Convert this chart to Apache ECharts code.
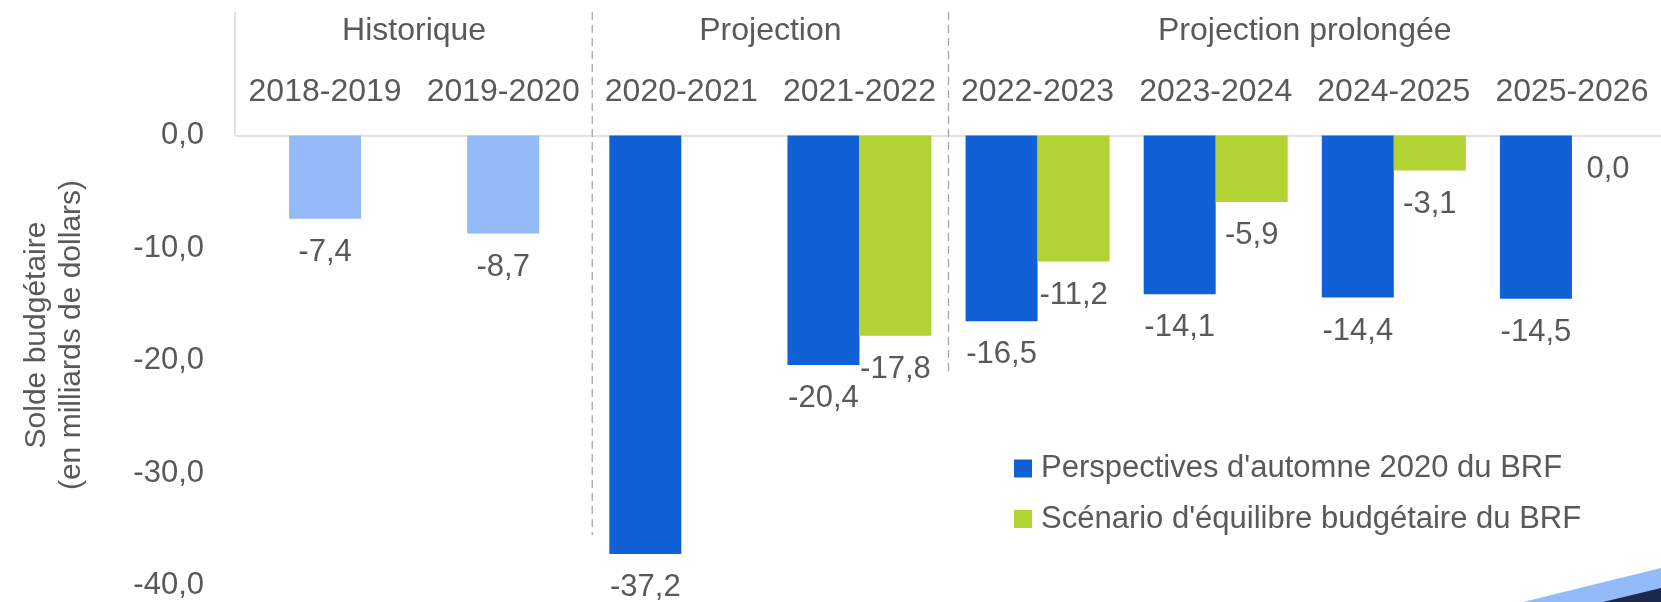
<!DOCTYPE html>
<html>
<head>
<meta charset="utf-8">
<script src="https://cdn.jsdelivr.net/npm/echarts@6/dist/echarts.min.js"></script>
<style>
html,body{margin:0;padding:0;background:#fff;}
#c{width:1661px;height:602px;}
</style>
</head>
<body>
<div id="c"></div>
<script>
const categories = ['2018-2019','2019-2020','2020-2021','2021-2022','2022-2023','2023-2024','2024-2025','2025-2026'];
const historique = [-7.4, -8.7, null, null, null, null, null, null];
const perspectives = [null, null, -37.2, -20.4, -16.5, -14.1, -14.4, -14.5];
const equilibre = [null, null, null, -17.8, -11.2, -5.9, -3.1, 0.0];
const seriesNames = ["Perspectives d'automne 2020 du BRF", "Scénario d'équilibre budgétaire du BRF"];
const yMin = -40, yMax = 0, yStep = 10;
const yTitle = ['Solde budgétaire', '(en milliards de dollars)'];
const groups = [
  {name: 'Historique', first: 0, last: 1},
  {name: 'Projection', first: 2, last: 3},
  {name: 'Projection prolongée', first: 4, last: 7}
];
// dashed separators: boundary after category index, and lower end (axis value)
const separators = [{after: 1, to: -35.5}, {after: 3, to: -21.1}];

const FONT = '"Liberation Sans", Arial, sans-serif';
const TXT = '#595959';
const fmt = v => (v == null ? '' : (Math.abs(v) < 1e-9 ? '0,0' : v.toFixed(1).replace('.', ',')));

const chart = echarts.init(document.getElementById('c'), null, {renderer: 'canvas'});
const labelCfg = {
  show: true, position: 'bottom', distance: 18,
  fontFamily: FONT, fontSize: 31, color: TXT,
  formatter: p => fmt(p.value)
};
chart.setOption({
  animation: false,
  textStyle: {fontFamily: FONT},
  grid: {left: 236, top: 135.6, width: 1432, height: 450, containLabel: false},
  xAxis: [
    {type: 'category', data: categories, position: 'top',
     axisLine: {show: true, lineStyle: {color: '#d9d9d9', width: 1.5}},
     axisTick: {show: false},
     axisLabel: {fontFamily: FONT, fontSize: 32, color: TXT, margin: 27, interval: 0},
     splitLine: {show: false}},
    {type: 'category', data: categories, show: false}
  ],
  yAxis: {
    type: 'value', min: yMin, max: yMax, interval: yStep,
    axisLine: {show: false}, axisTick: {show: false}, splitLine: {show: false},
    axisLabel: {fontFamily: FONT, fontSize: 31, color: TXT, margin: 32, formatter: v => fmt(v)}
  },
  legend: {
    data: seriesNames, orient: 'vertical', left: 1009, top: 448,
    itemWidth: 18, itemHeight: 18, itemGap: 19.5, icon: 'rect',
    textStyle: {fontFamily: FONT, fontSize: 31, color: TXT, padding: [0, 0, 0, 4]}
  },
  series: [
    {name: 'Historique', type: 'bar', xAxisIndex: 1, data: historique, barWidth: 72,
     itemStyle: {color: '#94bbf7'}, label: labelCfg},
    {name: seriesNames[0], type: 'bar', xAxisIndex: 0, data: perspectives, barWidth: 72, barGap: '0%',
     itemStyle: {color: '#1060d6'}, label: labelCfg},
    {name: seriesNames[1], type: 'bar', xAxisIndex: 0, data: equilibre, barWidth: 72, barGap: '0%',
     itemStyle: {color: '#b3d335'}, label: labelCfg}
  ]
});

function xc(i) { return chart.convertToPixel({xAxisIndex: 0}, categories[i]); }
function yp(v) { return chart.convertToPixel({yAxisIndex: 0}, v); }
const step = xc(1) - xc(0);
const gridLeft = xc(0) - step / 2;
const y0 = yp(0);
const graphics = [];
// header box left border
graphics.push({type: 'line', shape: {x1: gridLeft - 1, y1: 12, x2: gridLeft - 1, y2: y0}, style: {stroke: '#d9d9d9', lineWidth: 1.5}, z: 1});
separators.forEach(s => {
  const x = xc(s.after) + step / 2;
  graphics.push({type: 'line', shape: {x1: x, y1: 12, x2: x, y2: yp(s.to)}, style: {stroke: '#a6a6a6', lineWidth: 1.3, lineDash: [8, 5]}, z: 1});
});
groups.forEach(g => {
  const cx = (xc(g.first) + xc(g.last)) / 2;
  graphics.push({type: 'text', x: cx, y: 31.5, style: {text: g.name, fontFamily: FONT, fontSize: 32, fill: TXT, textAlign: 'center', textVerticalAlign: 'middle'}});
});
graphics.push({type: 'text', x: 54.5, y: 335, rotation: Math.PI / 2,
  style: {text: yTitle.join('\n'), fontFamily: FONT, fontSize: 30, lineHeight: 35, fill: TXT, textAlign: 'center', textVerticalAlign: 'middle'}});
// decorative corner
graphics.push({type: 'polygon', shape: {points: [[1523, 602], [1661, 568], [1661, 602]]}, style: {fill: '#93bbf7'}, z: 5});
graphics.push({type: 'polygon', shape: {points: [[1603, 602], [1661, 588], [1661, 602]]}, style: {fill: '#1b2a4a'}, z: 6});
chart.setOption({graphic: graphics});
</script>
</body>
</html>
